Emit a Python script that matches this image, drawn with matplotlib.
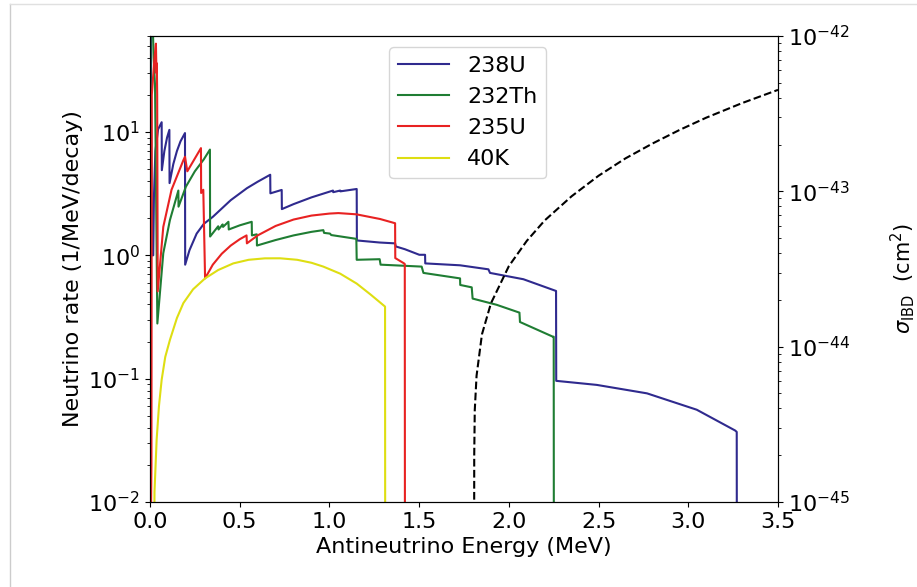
import numpy as np
import matplotlib
matplotlib.use("Agg")
import matplotlib.pyplot as plt
from matplotlib.lines import Line2D

# --- data (energy in MeV, rate in 1/MeV/decay) ---
u238_e = [0.000, 0.002, 0.004, 0.009, 0.012, 0.018, 0.022, 0.030, 0.045, 0.065,
          0.066, 0.080, 0.095, 0.108, 0.109, 0.130, 0.150, 0.170, 0.195, 0.196,
          0.220, 0.260, 0.300, 0.350, 0.450, 0.540, 0.600, 0.670, 0.671, 0.734,
          0.735, 0.800, 0.900, 1.000, 1.020, 1.021, 1.060, 1.061, 1.152, 1.153,
          1.280, 1.366, 1.370, 1.421, 1.501, 1.505, 1.533, 1.534, 1.728, 1.886,
          1.895, 2.081, 2.263, 2.264, 2.490, 2.770, 3.047, 3.261, 3.270, 3.271]
u238_r = [0.001, 0.3, 70.0, 3.0, 1.0, 1.0, 3.0, 7.0, 10.5, 12.0,
          4.9, 7.0, 9.0, 10.4, 3.85, 5.5, 7.0, 8.4, 9.8, 0.84,
          1.1, 1.5, 1.8, 2.05, 2.8, 3.5, 3.95, 4.5, 3.18, 3.39,
          2.37, 2.6, 2.95, 3.28, 3.35, 3.25, 3.35, 3.3, 3.45, 1.32,
          1.27, 1.25, 1.18, 1.12, 1.01, 1.01, 1.01, 0.86, 0.83, 0.77,
          0.72, 0.64, 0.514, 0.096, 0.089, 0.076, 0.056, 0.038, 0.037, 0.001]

th232_e = [0.000, 0.001, 0.003, 0.015, 0.020, 0.028, 0.041, 0.074, 0.111, 0.158,
           0.159, 0.200, 0.250, 0.300, 0.334, 0.335, 0.380, 0.382, 0.405, 0.407,
           0.437, 0.439, 0.500, 0.567, 0.568, 0.595, 0.596, 0.700, 0.800, 0.900,
           0.966, 0.970, 1.003, 1.010, 1.150, 1.152, 1.280, 1.285, 1.514, 1.524,
           1.728, 1.729, 1.793, 1.798, 1.932, 2.059, 2.062, 2.245, 2.250, 2.251]
th232_r = [0.001, 0.5, 80.0, 80.0, 40.0, 24.0, 0.28, 1.04, 1.93, 3.35,
           2.48, 3.6, 4.8, 6.0, 7.2, 1.42, 1.72, 1.62, 1.78, 1.70,
           1.87, 1.62, 1.75, 1.87, 1.45, 1.48, 1.2, 1.33, 1.45, 1.55,
           1.60, 1.52, 1.50, 1.46, 1.36, 0.92, 0.93, 0.84, 0.81, 0.72,
           0.65, 0.575, 0.55, 0.446, 0.397, 0.343, 0.288, 0.219, 0.219, 0.001]

u235_e = [0.000, 0.008, 0.010, 0.025, 0.033, 0.036, 0.038, 0.040, 0.043, 0.074,
          0.120, 0.186, 0.195, 0.208, 0.284, 0.285, 0.297, 0.307, 0.350, 0.400,
          0.450, 0.500, 0.538, 0.540, 0.600, 0.700, 0.800, 0.900, 1.000, 1.050,
          1.150, 1.282, 1.366, 1.367, 1.416, 1.420, 1.421]
u235_r = [0.001, 0.02, 20.0, 40.0, 52.0, 30.0, 36.0, 20.0, 0.51, 1.7,
          3.4, 5.9, 6.3, 4.8, 7.4, 3.2, 3.4, 0.65, 0.84, 1.03,
          1.2, 1.35, 1.45, 1.25, 1.45, 1.73, 1.95, 2.1, 2.18, 2.2,
          2.15, 1.97, 1.82, 0.95, 0.86, 0.85, 0.001]

k40_e = [0.022, 0.025, 0.037, 0.050, 0.065, 0.085, 0.111, 0.150, 0.186, 0.240,
         0.307, 0.380, 0.464, 0.550, 0.640, 0.725, 0.820, 0.900, 0.966, 1.060,
         1.152, 1.230, 1.310, 1.311]
k40_r = [0.001, 0.012, 0.032, 0.06, 0.098, 0.15, 0.206, 0.31, 0.41, 0.53,
         0.65, 0.76, 0.86, 0.92, 0.945, 0.946, 0.92, 0.87, 0.81, 0.71,
         0.59, 0.48, 0.384, 0.001]

# inverse beta decay cross section (cm^2), right axis
ibd_e = [1.806, 1.807, 1.810, 1.820, 1.850, 1.900, 2.000, 2.100, 2.200, 2.350,
         2.500, 2.650, 2.800, 2.950, 3.100, 3.300, 3.500]
ibd_sigma = [1e-46, 2.0e-45, 3.9e-45, 6.5e-45, 1.2e-44, 1.9e-44, 3.3e-44, 4.8e-44,
             6.5e-44, 9.3e-44, 1.26e-43, 1.63e-43, 2.03e-43, 2.48e-43, 2.98e-43,
             3.7e-43, 4.5e-43]

series = [
    ("238U", u238_e, u238_r, "#2f2a8e"),
    ("232Th", th232_e, th232_r, "#1f7d33"),
    ("235U", u235_e, u235_r, "#e82222"),
    ("40K", k40_e, k40_r, "#dede12"),
]

plt.rcParams['font.size'] = 16

fig = plt.figure(figsize=(9.17, 5.87), dpi=100)
ax1 = fig.add_axes([150 / 917, 1 - 502 / 587, 628 / 917, 466 / 587])

for name, e, r, c in series:
    ax1.plot(e, r, color=c, linewidth=1.5, label=name)

ax1.set_yscale('log')
ax1.set_xlim(0, 3.5)
ax1.set_ylim(1e-2, 60)
ax1.set_xlabel("Antineutrino Energy (MeV)")
ax1.set_ylabel("Neutrino rate (1/MeV/decay)")
ax1.legend(loc='upper center', bbox_to_anchor=(0.506, 1.0), handlelength=2.3)

ax2 = ax1.twinx()
ax2.plot(ibd_e, ibd_sigma, color='black', linestyle='--', linewidth=1.5)
ax2.set_yscale('log')
ax2.set_ylim(1e-45, 1e-42)
ax2.set_ylabel(r"$\sigma_{\rm IBD}$  (cm$^2$)", fontsize=15)
ax2.yaxis.set_label_coords(1.176, 0.48)

# light frame of the original screenshot
fig.add_artist(Line2D([9.5 / 917, 9.5 / 917], [0, 1 - 4 / 587], color='#cccccc', lw=1))
fig.add_artist(Line2D([9.5 / 917, 1], [1 - 4 / 587, 1 - 4 / 587], color='#e0e0e0', lw=1))

fig.savefig("out.png", dpi=100)
